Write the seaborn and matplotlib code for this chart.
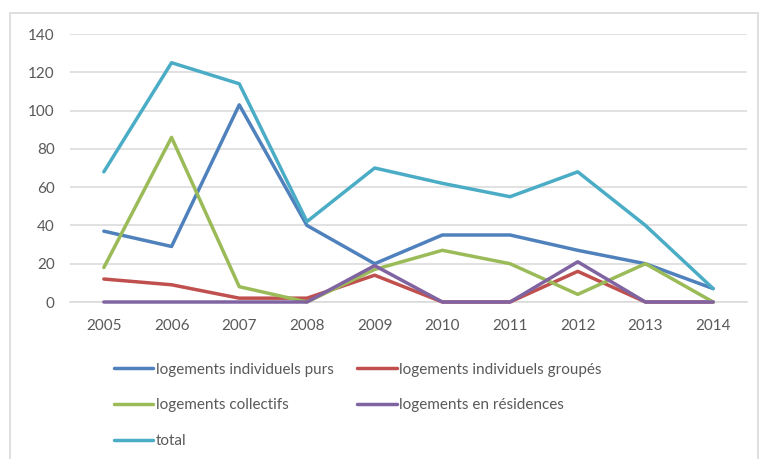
import matplotlib
matplotlib.use("Agg")
import matplotlib.pyplot as plt
from matplotlib.patches import Rectangle
from matplotlib.lines import Line2D
import seaborn as sns
import pandas as pd

years = ["2005", "2006", "2007", "2008", "2009", "2010", "2011", "2012", "2013", "2014"]
individuels_purs = [37, 29, 103, 40, 20, 35, 35, 27, 20, 7]
individuels_groupes = [12, 9, 2, 2, 14, 0, 0, 16, 0, 0]
collectifs = [18, 86, 8, 0, 17, 27, 20, 4, 20, 0]
residences = [0, 0, 0, 0, 19, 0, 0, 21, 0, 0]
total = [68, 125, 114, 42, 70, 62, 55, 68, 40, 7]

series_names = [
    "logements individuels purs",
    "logements individuels groupés",
    "logements collectifs",
    "logements en résidences",
    "total",
]
series_values = [individuels_purs, individuels_groupes, collectifs, residences, total]
colors = ["#4F81BD", "#C0504D", "#9BBB59", "#8064A2", "#4BACC6"]

rows = []
for name, vals in zip(series_names, series_values):
    for i, (yr, v) in enumerate(zip(years, vals)):
        rows.append({"pos": i, "annee": yr, "serie": name, "valeur": v})
df = pd.DataFrame(rows)

sns.set_theme(style="white")
plt.rcParams["font.family"] = ["Lato", "DejaVu Sans"]

fig = plt.figure(figsize=(7.64, 4.59), dpi=100)
ax = fig.add_axes([70 / 764, 157 / 459, 677 / 764, 268 / 459])

# outer chart frame
fig.patches.append(Rectangle((10 / 764, -0.01), 748 / 764, (459 - 13) / 459 + 0.01,
                             transform=fig.transFigure, fill=False,
                             edgecolor="#D9D9D9", linewidth=1.2))

palette = dict(zip(series_names, colors))
sns.lineplot(data=df, x="pos", y="valeur", hue="serie", hue_order=series_names,
             palette=palette, linewidth=2.5, ax=ax, legend=False, clip_on=False,
             zorder=3)

ax.set_xlim(-0.5, len(years) - 0.5)
ax.set_ylim(0, 140)
ax.set_yticks(range(0, 141, 20))
ax.set_xticks(range(len(years)))
ax.set_xticklabels(years)
ax.grid(axis="y", color="#D9D9D9", linewidth=1.1)
ax.grid(axis="x", visible=False)
for s in ["top", "right", "left"]:
    ax.spines[s].set_visible(False)
ax.spines["bottom"].set_color("#D9D9D9")
ax.spines["bottom"].set_linewidth(1.1)
ax.tick_params(axis="both", length=0, colors="#595959", labelsize=11)
ax.tick_params(axis="y", pad=11)
ax.tick_params(axis="x", pad=12)
ax.set_xlabel("")
ax.set_ylabel("")

# legend laid out in two columns, read row by row
order = [0, 2, 4, 1, 3]
handles = [Line2D([0], [0], color=colors[i], linewidth=2.5) for i in order]
labels = [series_names[i] for i in order]
fig.legend(handles, labels, loc="upper left", bbox_to_anchor=(106 / 764, 1 - 355 / 459),
           ncol=2, frameon=False, fontsize=11, handlelength=2.6, handletextpad=0.15,
           labelspacing=1.42, columnspacing=1.55, borderpad=0, labelcolor="#595959")

fig.savefig("out.png", dpi=100)
